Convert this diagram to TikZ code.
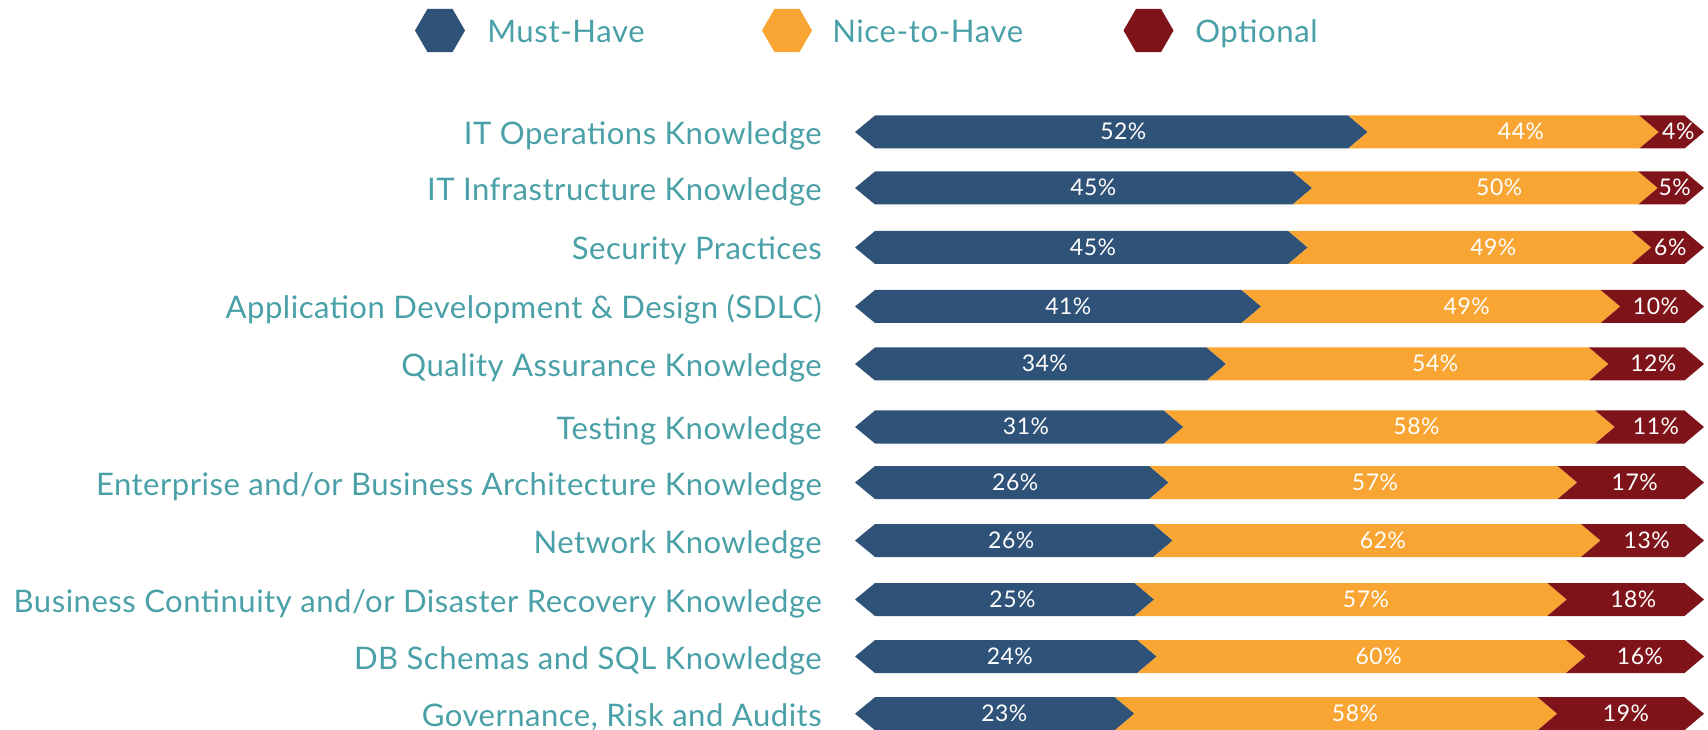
\documentclass[tikz,border=0pt]{standalone}
\usepackage{fontspec}
\setmainfont{Lato}
\newfontfamily\labelfont[LetterSpace=1.6]{Lato}
\newfontfamily\legendfont[LetterSpace=2]{Lato}
\newfontfamily\pctfont[LetterSpace=2.5]{Lato}
\usetikzlibrary{shapes.geometric}
\definecolor{mustblue}{HTML}{2F5279}
\definecolor{niceorange}{HTML}{F9A533}
\definecolor{optred}{HTML}{7E141A}
\definecolor{labelteal}{HTML}{4AA0A7}
\tikzset{
  hexa/.style={regular polygon, regular polygon sides=6, minimum size=37.5pt, inner sep=0pt},
  legendtext/.style={anchor=base west, inner sep=0pt, text=labelteal, font=\legendfont\fontsize{23.3}{28}\selectfont},
  rowlabel/.style={anchor=base east, inner sep=0pt, text=labelteal, font=\labelfont\fontsize{23.3}{28}\selectfont},
  pct/.style={anchor=base, inner sep=0pt, text=white, font=\pctfont\fontsize{17.2}{20}\selectfont}
}
\begin{document}
\begin{tikzpicture}[x=0.75pt,y=-0.75pt]
\useasboundingbox (0,0) rectangle (1708,730);
% legend
\node[hexa, fill=mustblue] (hexmust) at (440,30.5) {};
\node[hexa, fill=niceorange] (hexnice) at (787,30.5) {};
\node[hexa, fill=optred] (hexopt) at (1148.5,30.5) {};
\node[legendtext] (legmust) at (487,42.5) {Must-Have};
\node[legendtext] (legnice) at (832,42.5) {Nice-to-Have};
\node[legendtext] (legopt) at (1195,42.5) {Optional};
% bars
\foreach \i/\yc/\ba/\bb/\lbl/\pa/\xa/\pb/\xb/\pc/\xc in {
  1/132/1348.3/1639.3/{IT Operations Knowledge}/52/1123.3/44/1521/4/1678.3,
  2/188/1292.7/1638.3/{IT Infrastructure Knowledge}/45/1093.3/50/1499.2/5/1674.7,
  3/247.5/1288.3/1631.7/{Security Practices}/45/1093/49/1493.3/6/1670.3,
  4/306.5/1241.7/1600.7/{Application Development \& Design (SDLC)}/41/1068.3/49/1466.7/10/1656,
  5/364/1206.7/1589/{Quality Assurance Knowledge}/34/1044.8/54/1435.2/12/1653.3,
  6/427/1164/1595.3/{Testing Knowledge}/31/1026/58/1416.5/11/1656,
  7/482.5/1149.3/1557.7/{Enterprise and/or Business Architecture Knowledge}/26/1015.2/57/1375/17/1634.7,
  8/540.5/1153.3/1581/{Network Knowledge}/26/1011.2/62/1383/13/1646.7,
  9/599.5/1134.7/1547.3/{Business Continuity and/or Disaster Recovery Knowledge}/25/1012.5/57/1366/18/1633.3,
  10/656.5/1137.3/1566/{DB Schemas and SQL Knowledge}/24/1009.8/60/1378.6/16/1640,
  11/713.7/1115/1537.7/{Governance, Risk and Audits}/23/1004.3/58/1355/19/1626}
{
  \pgfmathsetmacro{\yt}{\yc-16.5}
  \pgfmathsetmacro{\yb}{\yc+16.5}
  \pgfmathsetmacro{\ta}{\ba+19.5}
  \pgfmathsetmacro{\tb}{\bb+19.5}
  \fill[mustblue] (855,\yc) -- (875,\yt) -- (\ba,\yt) -- (\ta,\yc) -- (\ba,\yb) -- (875,\yb) -- cycle;
  \fill[niceorange] (\ba,\yt) -- (\bb,\yt) -- (\tb,\yc) -- (\bb,\yb) -- (\ba,\yb) -- (\ta,\yc) -- cycle;
  \fill[optred] (\bb,\yt) -- (1684.5,\yt) -- (1704,\yc) -- (1684.5,\yb) -- (\bb,\yb) -- (\tb,\yc) -- cycle;
  \node[rowlabel] (lbl\i) at (822,\yc+12.5) {\lbl};
  \node[pct] (must\i) at (\xa,\yc+8) {\pa\%};
  \node[pct] (nice\i) at (\xb,\yc+8) {\pb\%};
  \node[pct] (opt\i) at (\xc,\yc+8) {\pc\%};
}
\end{tikzpicture}
\end{document}
